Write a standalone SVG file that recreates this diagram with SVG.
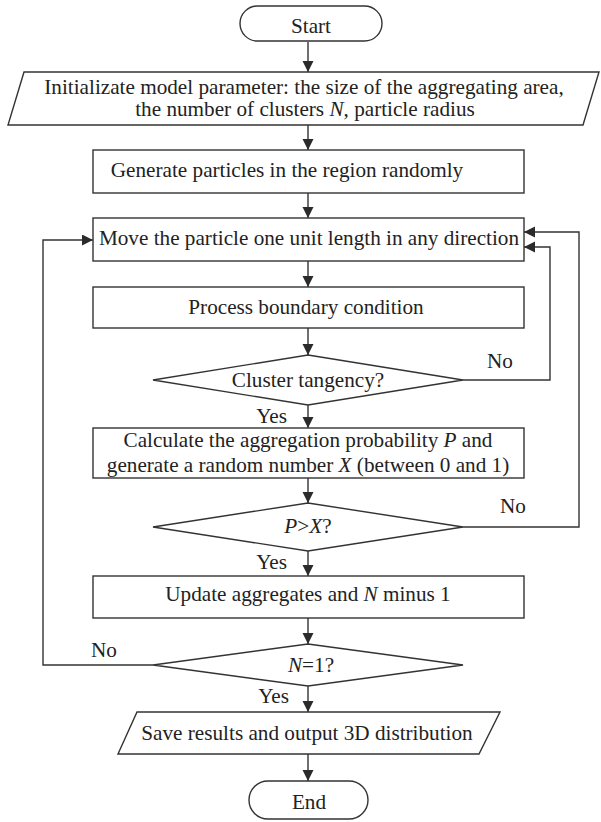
<svg xmlns="http://www.w3.org/2000/svg" width="601" height="822" viewBox="0 0 601 822">
  <style>
    .shape { fill: #ffffff; stroke: #333333; stroke-width: 1.4; }
    .link { fill: none; stroke: #333333; stroke-width: 1.4; }
    .t { font-family: 'Liberation Serif', 'Times New Roman', Times, serif; font-size: 21.2px; fill: #222222; }
    .c { text-anchor: middle; }
    .e { text-anchor: end; }
    .i { font-style: italic; }
  </style>
  <defs>
    <marker id="arrow" markerUnits="userSpaceOnUse" markerWidth="12" markerHeight="12" refX="11" refY="5.5" orient="auto">
      <path d="M0,0 L11,5.5 L0,11 Z" fill="#2b2b2b"/>
    </marker>
  </defs>
  <rect width="601" height="822" fill="#ffffff"/>

  <!-- connectors -->
  <g id="connectors">
    <line class="link" x1="308" y1="42" x2="308" y2="72" marker-end="url(#arrow)"/>
    <line class="link" x1="308" y1="125" x2="308" y2="150" marker-end="url(#arrow)"/>
    <line class="link" x1="308" y1="193" x2="308" y2="218" marker-end="url(#arrow)"/>
    <line class="link" x1="308" y1="261" x2="308" y2="287" marker-end="url(#arrow)"/>
    <line class="link" x1="308" y1="328" x2="308" y2="355" marker-end="url(#arrow)"/>
    <line class="link" x1="308" y1="405" x2="308" y2="428" marker-end="url(#arrow)"/>
    <line class="link" x1="308" y1="478" x2="308" y2="503" marker-end="url(#arrow)"/>
    <line class="link" x1="308" y1="551" x2="308" y2="576" marker-end="url(#arrow)"/>
    <line class="link" x1="308" y1="618" x2="308" y2="644" marker-end="url(#arrow)"/>
    <line class="link" x1="308" y1="686" x2="308" y2="712" marker-end="url(#arrow)"/>
    <line class="link" x1="308" y1="754" x2="308" y2="781" marker-end="url(#arrow)"/>
    <!-- loop-back paths -->
    <polyline class="link" points="463,380 550,380 550,247 524,247" marker-end="url(#arrow)"/>
    <polyline class="link" points="463,527 579,527 579,232 524,232" marker-end="url(#arrow)"/>
    <polyline class="link" points="153,665 43,665 43,240 93,240" marker-end="url(#arrow)"/>
    <!-- branch labels -->
    <text class="t c" x="500" y="368">No</text>
    <text class="t e" x="287" y="423">Yes</text>
    <text class="t c" x="513" y="513">No</text>
    <text class="t e" x="287" y="569">Yes</text>
    <text class="t c" x="104" y="657">No</text>
    <text class="t e" x="289" y="703">Yes</text>
  </g>

  <g id="start">
    <rect class="shape" x="240" y="6" width="142" height="35" rx="17.5"/>
    <text class="t c" x="311" y="33">Start</text>
  </g>

  <g id="init">
    <polygon class="shape" points="24,72 599,72 583,125 8,125"/>
    <text class="t c" x="304" y="94">Initializate model parameter: the size of the aggregating area,</text>
    <text class="t c" x="305" y="116">the number of clusters <tspan class="i">N</tspan>, particle radius</text>
  </g>

  <g id="generate">
    <rect class="shape" x="93" y="150" width="431" height="43"/>
    <text class="t c" x="287" y="177">Generate particles in the region randomly</text>
  </g>

  <g id="move">
    <rect class="shape" x="93" y="218" width="431" height="43"/>
    <text class="t c" x="309" y="245">Move the particle one unit length in any direction</text>
  </g>

  <g id="boundary">
    <rect class="shape" x="93" y="287" width="431" height="41"/>
    <text class="t c" x="306" y="314">Process boundary condition</text>
  </g>

  <g id="tangency">
    <polygon class="shape" points="308,355 463,380 308,405 153,380"/>
    <text class="t c" x="308" y="387">Cluster tangency?</text>
  </g>

  <g id="probability">
    <rect class="shape" x="93" y="428" width="431" height="50"/>
    <text class="t c" x="308" y="447">Calculate the aggregation probability <tspan class="i">P</tspan> and</text>
    <text class="t c" x="308" y="472">generate a random number <tspan class="i">X</tspan> (between 0 and 1)</text>
  </g>

  <g id="compare">
    <polygon class="shape" points="308,503 463,527 308,551 153,527"/>
    <text class="t c" x="308" y="533"><tspan class="i">P</tspan>&gt;<tspan class="i">X</tspan>?</text>
  </g>

  <g id="update">
    <rect class="shape" x="93" y="576" width="431" height="42"/>
    <text class="t c" x="308" y="601">Update aggregates and <tspan class="i">N</tspan> minus 1</text>
  </g>

  <g id="count">
    <polygon class="shape" points="308,644 463,665 308,686 153,665"/>
    <text class="t c" x="311" y="672"><tspan class="i">N</tspan>=1?</text>
  </g>

  <g id="save">
    <polygon class="shape" points="137,712 500,712 479,754 118,754"/>
    <text class="t c" x="307" y="740">Save results and output 3D distribution</text>
  </g>

  <g id="end">
    <rect class="shape" x="249" y="781" width="119" height="38" rx="19"/>
    <text class="t c" x="309" y="809">End</text>
  </g>
</svg>
